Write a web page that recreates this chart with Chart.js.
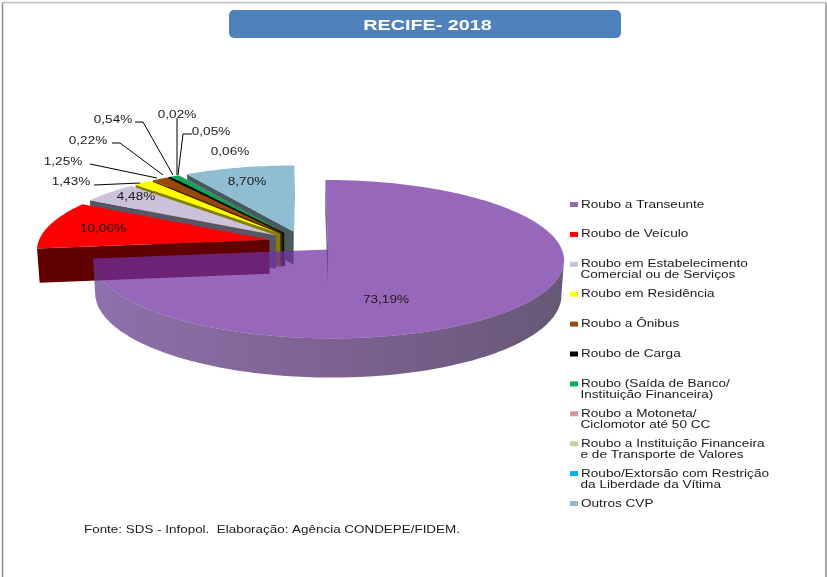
<!DOCTYPE html>
<html lang="pt">
<head>
    <meta charset="UTF-8">
    <title>RECIFE - 2018</title>
    <style>
        body { margin: 0; background: #fff; }
        canvas { display: block; }
    </style>
</head>
<body>
    <canvas id="mychart" width="827" height="577"></canvas>
    <script src="https://cdn.jsdelivr.net/npm/chart.js@4"></script>
    <script>
        /* dados */
        const categories = [
            ['Roubo a Transeunte'],
            ['Roubo de Veículo'],
            ['Roubo em Estabelecimento', 'Comercial ou de Serviços'],
            ['Roubo em Residência'],
            ['Roubo a Ônibus'],
            ['Roubo de Carga'],
            ['Roubo (Saída de Banco/', 'Instituição Financeira)'],
            ['Roubo a Motoneta/', 'Ciclomotor até 50 CC'],
            ['Roubo a Instituição Financeira', 'e de Transporte de Valores'],
            ['Roubo/Extorsão com Restrição', 'da Liberdade da Vítima'],
            ['Outros CVP']
        ];
        const shares = [73.19, 10.06, 4.48, 1.43, 1.25, 0.22, 0.54, 0.02, 0.05, 0.06, 8.70];
        const titleText = 'RECIFE- 2018';
        const sourceText = 'Fonte: SDS - Infopol.  Elaboração: Agência CONDEPE/FIDEM.';

        /* cores */
        const sliceColors = ['rgba(112,48,160,0.73)', '#ff0000', '#ccc1da', '#ffff00', '#984807', '#000000',
            '#00b050', '#d99694', '#c3d69b', '#00b0f0', '#8fbdd1'];
        const wallColors = [null, '#600000', '#5a5564', '#808000', '#4c2404', '#000000',
            '#005828', '#6c4a4a', '#616b4d', '#005878', '#465a5f'];

        /* posição dos rótulos: [centro x, centro y] e linhas de chamada */
        const labelSpots = [[386, 300], [103, 229], [136, 197], [71, 182], [63, 162], [88, 141],
            [113, 120], [177, 115], [211, 132], [230, 152], [247, 182]];
        const leaders = [
            [[94, 185], [140, 183]],
            [[90, 164], [157, 178]],
            [[112, 143], [120, 143], [163, 175]],
            [[135, 122], [143, 122], [173, 175]],
            [[177, 118], [177, 175]],
            [[192, 134], [183, 134], [178, 175]]
        ];

        const squash = 0.33;      // achatamento da elipse
        const perspective = 0.12; // o fundo fica menor que a frente
        const depth = 34;

        function project(arc, X, Y, bottom) {
            const k = 1 / (1 + perspective * Y / arc.outerRadius);
            let x = arc.x + X * k;
            let y = arc.y - squash * Y * k;
            if (bottom) {
                y += depth * k;
                x = arc.x + (x - arc.x) * 0.99;
            }
            return [x, y];
        }

        // contorno da fatia no plano do chão, já deslocada pelo offset
        function sliceOutline(arc) {
            const mid = (arc.startAngle + arc.endAngle) / 2;
            const shift = arc.options.offset / 4;
            const ox = Math.cos(mid) * shift;
            const oy = -Math.sin(mid) * shift;
            const pts = [[ox, oy]];
            const steps = Math.max(2, Math.ceil((arc.endAngle - arc.startAngle) / 0.02));
            for (let i = 0; i <= steps; i++) {
                const a = arc.startAngle + (arc.endAngle - arc.startAngle) * i / steps;
                pts.push([ox + Math.cos(a) * arc.outerRadius, oy - Math.sin(a) * arc.outerRadius]);
            }
            return pts;
        }

        function fillPoly(ctx, pts, color) {
            ctx.beginPath();
            pts.forEach((p, i) => i ? ctx.lineTo(p[0], p[1]) : ctx.moveTo(p[0], p[1]));
            ctx.closePath();
            ctx.fillStyle = color;
            ctx.fill();
        }

        // o original tem o texto esticado na horizontal
        function wideText(ctx, text, x, y, stretch) {
            ctx.save();
            ctx.translate(x, y);
            ctx.scale(stretch, 1);
            ctx.fillText(text, 0, 0);
            ctx.restore();
        }

        const pie3d = {
            id: 'pie3d',
            beforeDraw(chart) {
                const ctx = chart.ctx;
                // moldura
                ctx.lineWidth = 1.5;
                ctx.strokeStyle = '#8c8c8c';
                ctx.beginPath();
                ctx.moveTo(2.5, 577);
                ctx.lineTo(2.5, 2.5);
                ctx.moveTo(826, 2.5);
                ctx.lineTo(826, 577);
                ctx.stroke();
                ctx.strokeStyle = '#bdbdbd';
                ctx.beginPath();
                ctx.moveTo(2.5, 2.5);
                ctx.lineTo(826, 2.5);
                ctx.stroke();

                // caixa do título
                ctx.fillStyle = '#4f81bd';
                ctx.beginPath();
                ctx.roundRect(229, 10, 392, 28, 5);
                ctx.fill();
            },
            beforeDatasetsDraw(chart) {
                const ctx = chart.ctx;
                const arcs = chart.getDatasetMeta(0).data;
                for (let i = arcs.length - 1; i >= 0; i--) {
                    const arc = arcs[i];
                    const outline = sliceOutline(arc);
                    const top = outline.map(p => project(arc, p[0], p[1], false));
                    const low = outline.map(p => project(arc, p[0], p[1], true));
                    let wallFill = wallColors[i];
                    if (i === 0) {
                        wallFill = ctx.createLinearGradient(95, 0, 563, 0);
                        wallFill.addColorStop(0, 'rgba(101,59,139,0.73)');
                        wallFill.addColorStop(0.5, 'rgba(77,40,105,0.73)');
                        wallFill.addColorStop(1, 'rgba(46,26,68,0.73)');
                    }
                    // só as paredes voltadas para a frente
                    let run = [];
                    const flush = () => {
                        if (!run.length) return;
                        const last = (run[run.length - 1] + 1) % top.length;
                        const poly = run.map(j => top[j]).concat([top[last], low[last]]);
                        run.slice().reverse().forEach(j => poly.push(low[j]));
                        fillPoly(ctx, poly, wallFill);
                        run = [];
                    };
                    for (let j = 0; j < top.length; j++) {
                        const n = (j + 1) % top.length;
                        if (top[n][0] < top[j][0]) {
                            run.push(j);
                        } else {
                            flush();
                        }
                    }
                    flush();
                    fillPoly(ctx, top, sliceColors[i]);
                }
                return false;
            },
            afterDraw(chart) {
                const ctx = chart.ctx;
                ctx.save();
                ctx.strokeStyle = '#000';
                ctx.lineWidth = 1;
                leaders.forEach(line => {
                    ctx.beginPath();
                    line.forEach((p, i) => i ? ctx.lineTo(p[0], p[1]) : ctx.moveTo(p[0], p[1]));
                    ctx.stroke();
                });

                ctx.textBaseline = 'middle';
                ctx.fillStyle = '#ffffff';
                ctx.textAlign = 'center';
                ctx.font = 'bold 15px "Liberation Sans"';
                wideText(ctx, titleText, 427.5, 25.5, 1.32);

                ctx.fillStyle = '#1a1a1a';
                ctx.font = '11px "Liberation Sans"';
                shares.forEach((v, i) => {
                    const txt = v.toFixed(2).replace('.', ',') + '%';
                    wideText(ctx, txt, labelSpots[i][0], labelSpots[i][1], 1.23);
                });

                // legenda
                ctx.textAlign = 'left';
                categories.forEach((lines, i) => {
                    const y = 204.5 + i * 29.9;
                    ctx.fillStyle = sliceColors[i];
                    ctx.fillRect(570, y - 2.5, 8, 5);
                    ctx.fillStyle = '#1a1a1a';
                    lines.forEach((line, n) => wideText(ctx, line, n ? 580.5 : 581, y + n * 11, 1.235));
                });

                wideText(ctx, sourceText, 84, 529.5, 1.22);
                ctx.restore();
            }
        };

        new Chart(document.getElementById('mychart'), {
            type: 'pie',
            data: {
                labels: categories,
                datasets: [{
                    data: shares,
                    backgroundColor: sliceColors,
                    borderWidth: 0,
                    offset: 136,
                    radius: 231
                }]
            },
            options: {
                responsive: false,
                animation: false,
                layout: { padding: { top: 44, right: 222, bottom: 137 } },
                plugins: {
                    tooltip: { enabled: false },
                    legend: { display: false }
                }
            },
            plugins: [pie3d]
        });
    </script>
</body>
</html>
